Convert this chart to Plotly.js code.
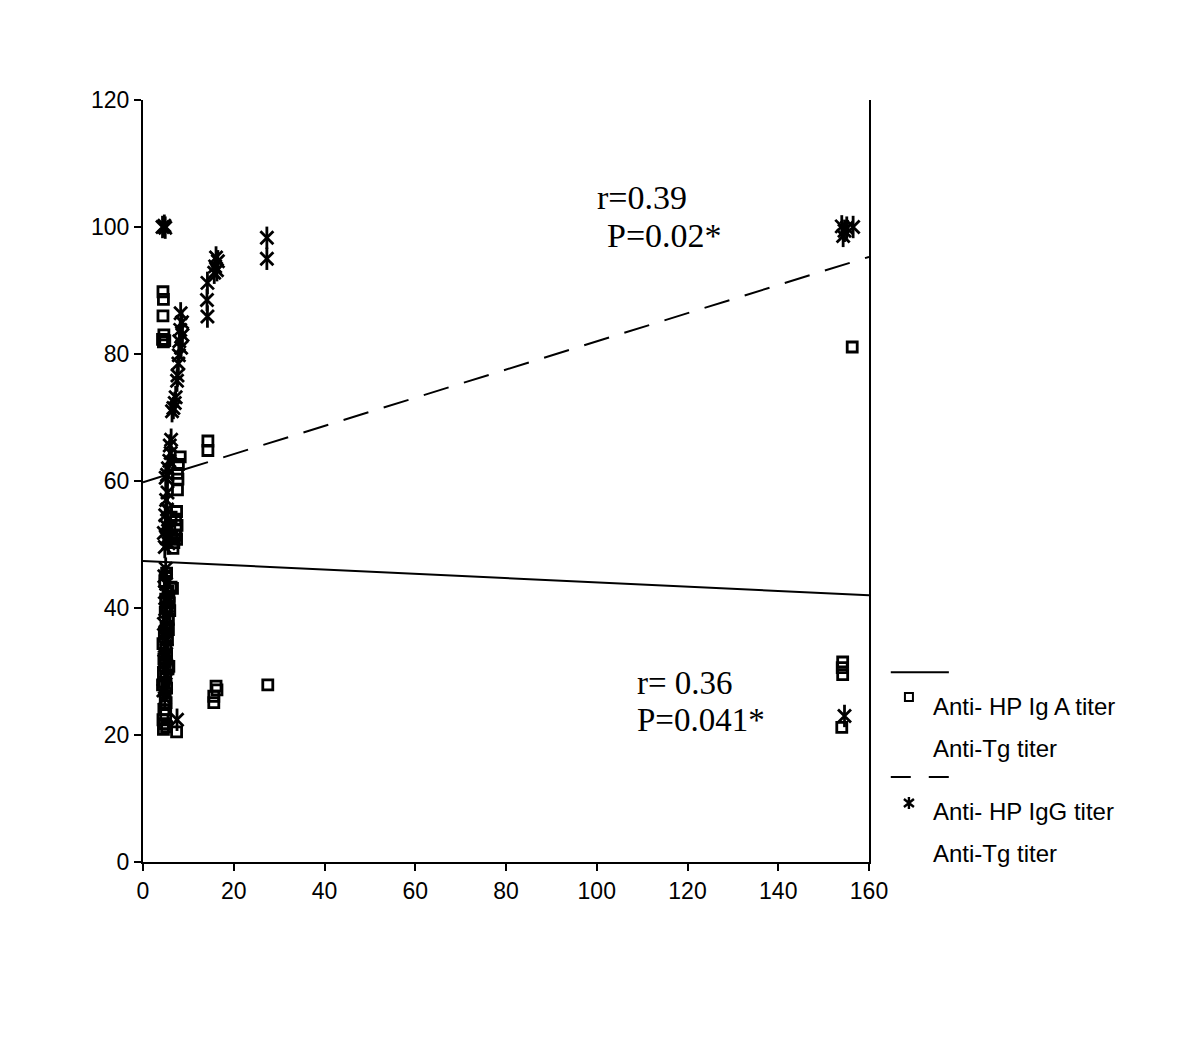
<!DOCTYPE html>
<html>
<head>
<meta charset="utf-8">
<script src="https://cdn.plot.ly/plotly-3.0.1.min.js"></script>
<style>html,body{margin:0;padding:0;background:#fff;}#chart{width:1200px;height:1042px;}</style>
</head>
<body>
<div id="chart"></div>
<script>
// Anti-HP IgA titer (x) vs Anti-Tg titer (y) — open squares
const igaX = [4.4,4.5,4.4,4.6,4.3,4.8,4.5,
  14.3,14.3,
  8.2,7.8,7.6,7.7,7.6,7.4,7.2,7.5,7.3,7.0,7.4,6.8,6.6,6.2,5.9,6.3,
  6.5,6.2,
  5.2,4.8,5.5,5.0,5.3,4.9,5.6,5.1,4.7,5.4,5.0,5.2,4.8,5.5,5.0,4.6,5.2,4.3,4.9,5.1,4.6,5.0,4.4,4.7,5.2,4.5,5.8,5.9,5.7,5.6,
  4.4,4.6,5.7,4.5,
  7.4,
  16.1,16.3,15.6,15.6,
  27.5,
  154.2,154.1,154.2,154.0,156.3];
const igaY = [89.8,88.6,86.0,83.0,82.3,82.1,81.9,
  66.3,64.8,
  63.8,62.6,61.2,60.3,58.6,55.2,54.0,53.0,52.3,51.5,50.8,50.3,49.4,54.3,52.6,51.1,
  43.1,43.3,
  45.5,44.2,42.6,41.4,40.2,39.3,38.2,37.0,36.1,35.0,33.8,32.6,31.5,30.4,29.3,28.3,27.4,27.9,26.2,25.1,24.0,23.2,22.4,21.8,21.3,20.9,40.8,39.6,41.9,36.6,
  34.4,32.0,30.8,29.8,
  20.5,
  27.7,27.1,26.1,25.1,
  27.9,
  31.5,30.6,29.5,21.2,81.1];

// Anti-HP IgG titer (x) vs Anti-Tg titer (y) — asterisks
const iggX = [4.3,4.7,4.9,
  8.3,8.6,8.2,8.7,8.0,8.4,7.9,7.8,7.6,7.5,7.2,7.0,6.7,6.4,
  6.2,5.9,6.1,5.8,5.5,5.3,5.0,5.4,5.1,5.3,4.9,5.5,5.0,5.8,4.6,5.2,5.6,4.8,
  5.0,4.7,5.1,4.8,5.2,4.9,5.3,4.6,5.0,5.2,4.8,5.1,4.7,5.3,4.9,5.0,4.5,4.8,
  7.5,
  14.2,14.1,14.2,
  16.1,16.5,15.9,16.3,15.7,
  27.3,27.3,
  154.0,154.6,154.3,156.5,155.1,154.6];
const iggY = [100,100.2,99.9,
  86.4,85.0,83.8,83.0,82.0,81.0,79.8,78.5,76.6,75.8,73.2,72.3,71.5,71.0,
  66.5,65.6,64.4,63.2,62.0,61.0,60.5,58.2,57.0,55.5,54.6,53.9,53.0,52.4,51.8,51.0,50.2,49.6,
  46.2,45.0,43.8,42.5,41.0,39.8,38.6,37.5,36.3,35.1,34.0,32.8,31.6,30.5,29.4,28.0,27.0,25.8,
  22.4,
  91.2,88.5,85.9,
  95.2,94.6,93.8,93.2,92.8,
  98.3,95.0,
  100.1,99.4,98.6,100.0,99.9,23.0];

// Regression lines
const fitX = [0, 160];
const fitIgA = [47.4, 42.0];
const fitIgG = [59.8, 95.3];

const xTicks = [0,20,40,60,80,100,120,140,160];
const yTicks = [0,20,40,60,80,100,120];

const legendLabels = ["Anti- HP Ig A titer","Anti-Tg titer","Anti- HP IgG titer","Anti-Tg titer"];
const statIgG = ["r=0.39","P=0.02*"];
const statIgA = ["r= 0.36","P=0.041*"];

const sqMarker = {symbol:'square-open', size:10, color:'#000', line:{width:2.8, color:'#000'}};
const astX = {symbol:'x-thin-open', size:13, color:'#000', line:{width:2.8, color:'#000'}};
const astV = {symbol:'line-ns-open', size:16, color:'#000', line:{width:2.8, color:'#000'}};

const traces = [
  {x: fitX, y: fitIgA, mode:'lines', line:{color:'#000', width:2}, showlegend:false, hoverinfo:'skip'},
  {x: fitX, y: fitIgG, mode:'lines', line:{color:'#000', width:2, dash:'26px,16px'}, showlegend:false, hoverinfo:'skip'},
  {x: igaX, y: igaY, mode:'markers', marker: sqMarker, showlegend:false},
  {x: iggX, y: iggY, mode:'markers', marker: astX, showlegend:false},
  {x: iggX, y: iggY, mode:'markers', marker: astV, showlegend:false}
];

const legFont = {family:'Liberation Sans, Arial, sans-serif', size:24, color:'#000'};
const statFontG = {family:'Liberation Serif, Times New Roman, serif', size:34, color:'#000'};
const statFontA = {family:'Liberation Serif, Times New Roman, serif', size:33, color:'#000'};

const annotations = [
  {xref:'paper', yref:'paper', x:1.086, y:0.2047, xanchor:'left', yanchor:'middle', text:legendLabels[0], showarrow:false, font:legFont},
  {xref:'paper', yref:'paper', x:1.086, y:0.1496, xanchor:'left', yanchor:'middle', text:legendLabels[1], showarrow:false, font:legFont},
  {xref:'paper', yref:'paper', x:1.086, y:0.0669, xanchor:'left', yanchor:'middle', text:legendLabels[2], showarrow:false, font:legFont},
  {xref:'paper', yref:'paper', x:1.086, y:0.0118, xanchor:'left', yanchor:'middle', text:legendLabels[3], showarrow:false, font:legFont},
  {xref:'x', yref:'y', x:99.6, y:104.7, xanchor:'left', yanchor:'middle', text:statIgG[0], showarrow:false, font:statFontG},
  {xref:'x', yref:'y', x:101.8, y:98.6, xanchor:'left', yanchor:'middle', text:statIgG[1], showarrow:false, font:statFontG},
  {xref:'x', yref:'y', x:108.4, y:28.2, xanchor:'left', yanchor:'middle', text:statIgA[0], showarrow:false, font:statFontA},
  {xref:'x', yref:'y', x:108.4, y:22.4, xanchor:'left', yanchor:'middle', text:statIgA[1], showarrow:false, font:statFontA}
];

const shapes = [
  {type:'line', xref:'paper', yref:'paper', x0:1.030, x1:1.110, y0:0.249, y1:0.249, line:{color:'#000', width:2}},
  {type:'line', xref:'paper', yref:'paper', x0:1.030, x1:1.110, y0:0.1115, y1:0.1115, line:{color:'#000', width:2, dash:'20px,18px'}},
  // legend key: open square
  {type:'rect', xref:'paper', yref:'paper', xsizemode:'pixel', ysizemode:'pixel', xanchor:1.055, yanchor:0.2165,
   x0:-4, x1:4, y0:-4, y1:4, line:{color:'#000', width:2}, fillcolor:'rgba(0,0,0,0)'},
  // legend key: asterisk
  {type:'path', xref:'paper', yref:'paper', xsizemode:'pixel', ysizemode:'pixel', xanchor:1.055, yanchor:0.0774,
   path:'M-5,-4L5,4M-5,4L5,-4M0,-6L0,6', line:{color:'#000', width:2.4}}
];

const tickFont = {family:'Liberation Sans, Arial, sans-serif', size:23, color:'#000'};

const layout = {
  width:1200, height:1042,
  margin:{l:143, r:331, t:100, b:180, pad:0},
  paper_bgcolor:'#fff', plot_bgcolor:'#fff',
  showlegend:false,
  xaxis:{range:[0,160], tickvals:xTicks, ticktext:xTicks.map(String), showgrid:false, zeroline:false,
    showline:true, linecolor:'#000', linewidth:2, ticks:'outside', ticklen:7, tickwidth:2, tickcolor:'#000',
    tickfont:tickFont, mirror:false, fixedrange:true},
  yaxis:{range:[0,120], tickvals:yTicks, ticktext:yTicks.map(String), showgrid:false, zeroline:false,
    showline:true, linecolor:'#000', linewidth:2, ticks:'outside', ticklen:7, tickwidth:2, tickcolor:'#000',
    tickfont:tickFont, mirror:true, fixedrange:true},
  annotations: annotations,
  shapes: shapes
};

Plotly.newPlot('chart', traces, layout, {staticPlot:true, displayModeBar:false});
</script>
</body>
</html>
